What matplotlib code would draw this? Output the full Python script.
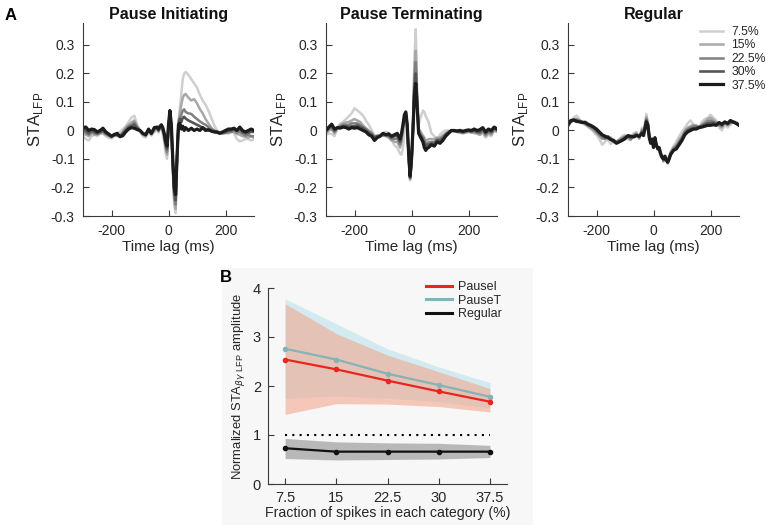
import numpy as np
import matplotlib
matplotlib.use("Agg")
import matplotlib.pyplot as plt

plt.rcParams['font.family'] = ['Liberation Sans', 'DejaVu Sans']

# ---------------- data ----------------
time_ms = [-300, -290, -280, -270, -260, -250, -240, -230, -220, -210,
           -200, -190, -180, -170, -160, -150, -140, -130, -120, -110,
           -100, -90, -80, -70, -60, -50, -40, -35, -30, -25,
           -20, -15, -10, -5, 0, 5, 10, 15, 20, 25,
           30, 35, 40, 45, 50, 55, 60, 70, 80, 90,
           100, 110, 120, 130, 140, 150, 160, 170, 180, 190,
           200, 210, 220, 230, 240, 250, 260, 270, 280, 290,
           300]

fraction_labels = ['7.5%', '15%', '22.5%', '30%', '37.5%']
panel_titles = ['Pause Initiating', 'Pause Terminating', 'Regular']

# Pause Initiating: 7.5, 15, 22.5, 30, 37.5 %
pi_075 = [-0.020, -0.030, -0.035, -0.020, -0.015, -0.020, -0.012, -0.010, -0.020, -0.025,
          -0.028, -0.020, -0.010, -0.005, 0.005, 0.015, 0.030, 0.045, 0.052, 0.020,
          -0.005, -0.020, -0.025, -0.005, -0.018, -0.005, 0.000, -0.008, 0.005, 0.010,
          -0.010, -0.040, -0.080, -0.100, 0.000, 0.060, 0.000, -0.140, -0.260, -0.290,
          -0.110, 0.030, 0.080, 0.130, 0.180, 0.200, 0.205, 0.195, 0.180, 0.165,
          0.150, 0.125, 0.105, 0.090, 0.070, 0.045, 0.020, 0.000, -0.005, -0.008,
          -0.010, -0.005, 0.000, -0.010, -0.030, -0.038, -0.035, -0.030, -0.030, -0.035,
          -0.030]
pi_150 = [-0.010, -0.015, -0.020, -0.010, -0.015, -0.015, -0.010, -0.008, -0.015, -0.020,
          -0.025, -0.015, -0.020, -0.018, -0.005, 0.010, 0.020, 0.028, 0.035, 0.015,
          0.000, -0.015, -0.020, -0.002, -0.015, 0.000, 0.005, -0.003, 0.008, 0.012,
          -0.005, -0.030, -0.065, -0.085, 0.005, 0.062, 0.005, -0.130, -0.245, -0.275,
          -0.100, 0.030, 0.060, 0.090, 0.115, 0.125, 0.128, 0.115, 0.105, 0.110,
          0.095, 0.075, 0.060, 0.040, 0.025, 0.010, 0.000, -0.005, -0.008, -0.010,
          -0.008, -0.010, -0.005, -0.005, -0.012, -0.015, -0.020, -0.022, -0.025, -0.020,
          -0.025]
pi_225 = [0.000, -0.008, -0.015, -0.005, -0.010, -0.012, -0.008, -0.003, -0.012, -0.018,
          -0.022, -0.015, -0.018, -0.020, -0.008, 0.005, 0.015, 0.020, 0.028, 0.012,
          0.000, -0.012, -0.018, 0.000, -0.012, 0.003, 0.008, 0.000, 0.010, 0.015,
          0.000, -0.020, -0.055, -0.075, 0.010, 0.065, 0.010, -0.120, -0.230, -0.260,
          -0.095, 0.025, 0.045, 0.055, 0.070, 0.074, 0.065, 0.060, 0.058, 0.048,
          0.040, 0.032, 0.025, 0.020, 0.012, 0.005, 0.000, -0.005, -0.008, -0.010,
          -0.008, -0.005, -0.005, 0.000, -0.008, -0.005, -0.012, -0.018, -0.015, -0.020,
          -0.020]
pi_300 = [0.005, 0.000, -0.010, 0.000, -0.005, -0.010, -0.005, 0.000, -0.010, -0.015,
          -0.020, -0.012, -0.015, -0.020, -0.010, 0.000, 0.010, 0.015, 0.020, 0.008,
          0.000, -0.012, -0.015, 0.000, -0.010, 0.005, 0.010, 0.000, 0.012, 0.018,
          0.005, -0.015, -0.045, -0.065, 0.015, 0.068, 0.015, -0.110, -0.215, -0.245,
          -0.090, 0.020, 0.040, 0.030, 0.045, 0.048, 0.042, 0.035, 0.030, 0.025,
          0.020, 0.015, 0.010, 0.005, 0.000, -0.002, -0.005, -0.008, -0.010, -0.008,
          -0.005, 0.000, 0.000, 0.005, 0.000, 0.005, -0.005, -0.010, -0.008, -0.005,
          -0.005]
pi_375 = [0.010, 0.012, 0.000, 0.005, 0.003, -0.005, 0.000, 0.008, -0.005, -0.012,
          -0.020, -0.015, -0.010, -0.022, -0.018, -0.005, 0.005, 0.010, 0.008, 0.003,
          0.000, -0.010, -0.015, 0.005, -0.010, 0.010, 0.012, 0.005, 0.015, 0.020,
          0.010, -0.010, -0.040, -0.055, 0.020, 0.070, 0.020, -0.100, -0.200, -0.225,
          -0.090, 0.020, 0.025, 0.005, 0.015, 0.000, 0.010, 0.000, 0.008, 0.000,
          0.005, 0.000, 0.010, 0.000, 0.003, -0.002, -0.005, -0.005, -0.010, -0.005,
          0.000, 0.005, 0.005, 0.008, 0.000, 0.012, 0.000, -0.005, 0.000, 0.005,
          0.000]

# Pause Terminating
pt_075 = [-0.015, -0.010, -0.012, -0.020, 0.010, 0.025, 0.030, 0.040, 0.050, 0.060,
          0.078, 0.070, 0.062, 0.052, 0.035, 0.020, 0.002, -0.018, -0.020, -0.015,
          -0.010, -0.005, -0.008, -0.030, -0.052, -0.060, -0.082, -0.085, -0.060, -0.010,
          0.030, 0.000, -0.100, -0.175, -0.125, 0.000, 0.250, 0.355, 0.130, 0.020,
          0.040, 0.055, 0.070, 0.065, 0.050, 0.040, 0.030, -0.010, -0.020, -0.030,
          -0.015, -0.005, 0.000, 0.000, -0.005, -0.005, 0.000, 0.002, 0.000, -0.005,
          0.000, -0.005, -0.010, -0.012, -0.015, -0.010, -0.025, -0.015, -0.020, 0.000,
          -0.005]
pt_150 = [-0.010, 0.000, 0.005, -0.010, 0.005, 0.018, 0.025, 0.028, 0.030, 0.035,
          0.040, 0.035, 0.030, 0.018, 0.008, 0.000, -0.008, -0.020, -0.018, -0.020,
          -0.018, -0.020, -0.025, -0.035, -0.040, -0.040, -0.060, -0.040, 0.005, 0.040,
          0.058, 0.010, -0.095, -0.170, -0.120, 0.000, 0.210, 0.280, 0.110, 0.005,
          0.000, -0.010, -0.018, -0.025, -0.035, -0.035, -0.030, -0.030, -0.030, -0.025,
          -0.025, -0.018, -0.010, -0.003, 0.000, -0.003, -0.005, -0.008, -0.010, -0.008,
          -0.005, -0.008, -0.008, -0.010, -0.015, -0.005, -0.020, -0.010, -0.015, 0.000,
          -0.005]
pt_225 = [-0.005, 0.005, 0.010, -0.005, 0.008, 0.015, 0.020, 0.020, 0.020, 0.025,
          0.025, 0.025, 0.020, 0.012, 0.005, -0.003, -0.010, -0.022, -0.020, -0.020,
          -0.015, -0.018, -0.020, -0.030, -0.030, -0.028, -0.050, -0.030, 0.010, 0.045,
          0.060, 0.015, -0.090, -0.168, -0.115, 0.000, 0.180, 0.240, 0.100, 0.000,
          -0.010, -0.018, -0.025, -0.035, -0.045, -0.045, -0.042, -0.040, -0.040, -0.030,
          -0.030, -0.022, -0.012, -0.005, 0.000, -0.002, -0.005, -0.005, -0.008, -0.005,
          -0.003, -0.005, -0.003, -0.008, -0.010, 0.000, -0.015, -0.005, -0.010, 0.005,
          0.000]
pt_300 = [0.000, 0.010, 0.015, 0.000, 0.010, 0.012, 0.015, 0.015, 0.012, 0.015,
          0.015, 0.018, 0.012, 0.008, 0.000, -0.008, -0.015, -0.025, -0.020, -0.018,
          -0.012, -0.015, -0.018, -0.025, -0.020, -0.018, -0.040, -0.020, 0.015, 0.050,
          0.062, 0.018, -0.085, -0.165, -0.110, 0.000, 0.150, 0.200, 0.090, -0.005,
          -0.015, -0.022, -0.032, -0.045, -0.055, -0.050, -0.050, -0.045, -0.048, -0.035,
          -0.035, -0.028, -0.015, -0.008, 0.000, 0.000, -0.003, -0.002, -0.005, -0.002,
          0.000, -0.003, 0.000, -0.005, -0.005, 0.005, -0.010, 0.000, -0.005, 0.008,
          0.003]
pt_375 = [0.000, 0.012, 0.022, 0.005, 0.010, 0.008, 0.012, 0.010, 0.005, 0.010,
          0.008, 0.010, 0.005, 0.000, -0.005, -0.015, -0.020, -0.035, -0.025, -0.020,
          -0.010, -0.015, -0.012, -0.020, -0.015, -0.010, -0.030, -0.010, 0.020, 0.055,
          0.065, 0.020, -0.080, -0.160, -0.100, 0.000, 0.120, 0.165, 0.080, -0.010,
          -0.020, -0.030, -0.040, -0.060, -0.070, -0.062, -0.060, -0.050, -0.055, -0.040,
          -0.045, -0.035, -0.020, -0.010, 0.000, 0.000, -0.002, 0.000, -0.003, 0.000,
          0.002, 0.000, 0.005, 0.000, 0.003, 0.010, -0.005, 0.005, 0.000, 0.012,
          0.005]

# Regular
rg_075 = [0.012, 0.030, 0.045, 0.052, 0.040, 0.025, 0.020, 0.012, 0.005, -0.005,
          -0.015, -0.030, -0.050, -0.040, -0.030, -0.048, -0.030, -0.045, -0.030, -0.020,
          -0.015, -0.030, -0.035, -0.010, -0.005, -0.030, 0.010, 0.000, 0.025, 0.058,
          0.030, -0.012, -0.035, -0.045, -0.050, -0.038, -0.058, -0.055, -0.072, -0.092,
          -0.085, -0.110, -0.102, -0.092, -0.118, -0.090, -0.075, -0.055, -0.040, -0.020,
          -0.005, 0.010, 0.025, 0.035, 0.020, 0.015, 0.010, 0.030, 0.040, 0.045,
          0.055, 0.045, 0.035, 0.010, 0.000, 0.020, 0.010, 0.020, 0.032, 0.030,
          0.020]
rg_150 = [0.015, 0.030, 0.040, 0.040, 0.035, 0.028, 0.022, 0.015, 0.008, 0.000,
          -0.010, -0.020, -0.030, -0.020, -0.030, -0.025, -0.042, -0.038, -0.032, -0.025,
          -0.020, -0.025, -0.032, -0.015, -0.010, -0.028, 0.005, -0.005, 0.020, 0.048,
          0.028, -0.015, -0.038, -0.040, -0.052, -0.035, -0.055, -0.058, -0.070, -0.088,
          -0.088, -0.108, -0.100, -0.095, -0.110, -0.092, -0.078, -0.060, -0.050, -0.032,
          -0.020, 0.000, 0.010, 0.015, 0.020, 0.018, 0.012, 0.022, 0.030, 0.040,
          0.045, 0.038, 0.030, 0.018, 0.010, 0.025, 0.018, 0.025, 0.030, 0.028,
          0.022]
rg_225 = [0.018, 0.030, 0.035, 0.038, 0.035, 0.030, 0.025, 0.018, 0.012, 0.005,
          -0.005, -0.015, -0.025, -0.030, -0.020, -0.028, -0.040, -0.040, -0.035, -0.028,
          -0.022, -0.022, -0.030, -0.018, -0.012, -0.025, 0.000, -0.008, 0.015, 0.040,
          0.025, -0.018, -0.040, -0.038, -0.055, -0.032, -0.052, -0.060, -0.068, -0.085,
          -0.090, -0.105, -0.098, -0.098, -0.108, -0.095, -0.080, -0.065, -0.055, -0.040,
          -0.025, -0.005, 0.005, 0.010, 0.015, 0.015, 0.012, 0.018, 0.025, 0.032,
          0.035, 0.030, 0.025, 0.020, 0.015, 0.028, 0.020, 0.028, 0.030, 0.025,
          0.022]
rg_300 = [0.020, 0.033, 0.035, 0.030, 0.032, 0.030, 0.025, 0.020, 0.015, 0.010,
          0.000, -0.010, -0.018, -0.025, -0.022, -0.030, -0.038, -0.042, -0.038, -0.032,
          -0.025, -0.020, -0.025, -0.020, -0.015, -0.022, -0.005, -0.012, 0.010, 0.035,
          0.022, -0.020, -0.042, -0.035, -0.058, -0.030, -0.050, -0.062, -0.065, -0.082,
          -0.092, -0.102, -0.095, -0.100, -0.110, -0.098, -0.082, -0.068, -0.060, -0.045,
          -0.030, -0.010, 0.000, 0.005, 0.008, 0.010, 0.012, 0.015, 0.020, 0.025,
          0.025, 0.028, 0.022, 0.025, 0.018, 0.030, 0.022, 0.030, 0.028, 0.025,
          0.020]
rg_375 = [0.020, 0.035, 0.037, 0.033, 0.030, 0.028, 0.029, 0.022, 0.018, 0.012,
          0.005, -0.005, -0.015, -0.020, -0.025, -0.032, -0.035, -0.045, -0.040, -0.035,
          -0.029, -0.018, -0.020, -0.023, -0.018, -0.020, -0.010, -0.018, 0.005, 0.030,
          0.020, -0.025, -0.045, -0.030, -0.060, -0.025, -0.050, -0.065, -0.060, -0.080,
          -0.095, -0.100, -0.090, -0.105, -0.112, -0.100, -0.085, -0.070, -0.065, -0.050,
          -0.035, -0.015, -0.005, 0.000, 0.005, 0.005, 0.010, 0.012, 0.015, 0.018,
          0.018, 0.020, 0.018, 0.028, 0.022, 0.030, 0.025, 0.035, 0.030, 0.025,
          0.018]

panel_series = [
    [pi_075, pi_150, pi_225, pi_300, pi_375],
    [pt_075, pt_150, pt_225, pt_300, pt_375],
    [rg_075, rg_150, rg_225, rg_300, rg_375],
]

# Panel B
fractions = [7.5, 15, 22.5, 30, 37.5]
pausei_mean = [2.54, 2.34, 2.11, 1.89, 1.68]
pausei_lo = [1.42, 1.64, 1.63, 1.58, 1.47]
pausei_hi = [3.68, 3.07, 2.63, 2.29, 1.95]
pauset_mean = [2.76, 2.54, 2.25, 2.02, 1.78]
pauset_lo = [1.75, 1.80, 1.75, 1.68, 1.55]
pauset_hi = [3.78, 3.27, 2.76, 2.39, 2.07]
regular_mean = [0.73, 0.66, 0.66, 0.66, 0.66]
regular_lo = [0.52, 0.49, 0.50, 0.51, 0.54]
regular_hi = [0.93, 0.86, 0.84, 0.83, 0.79]
reference_level = 1.0

for s in panel_series:
    for c in s:
        assert len(c) == len(time_ms)

# ---------------- plotting ----------------
W, H = 766, 525
fig = plt.figure(figsize=(W / 100, H / 100), dpi=100)

def ax_rect(l, t, r, b):
    return [l / W, 1 - b / H, (r - l) / W, (b - t) / H]

# light background behind panel B
bg = fig.add_axes([222 / W, 0, (533 - 222) / W, 1 - 268 / H], zorder=-10)
bg.set_facecolor('#f7f7f7')
bg.set_xticks([])
bg.set_yticks([])
for sp in bg.spines.values():
    sp.set_visible(False)

gray_colors = ['#cfcfcf', '#a8a8a8', '#808080', '#555555', '#1c1c1c']
gray_widths = [1.8, 1.8, 1.8, 1.9, 2.3]
txt_col = '#262626'
spine_col = '#3a3a3a'

lefts = [83, 326, 568]
for i, series in enumerate(panel_series):
    ax = fig.add_axes(ax_rect(lefts[i], 23, lefts[i] + 171, 216))
    for c, col, lw, lab in zip(series, gray_colors, gray_widths, fraction_labels):
        ax.plot(time_ms, c, color=col, lw=lw, label=lab, solid_joinstyle='round')
    ax.set_xlim(-300, 300)
    ax.set_ylim(-0.3, 0.377)
    ax.set_xticks([-200, 0, 200])
    ax.set_yticks([-0.3, -0.2, -0.1, 0, 0.1, 0.2, 0.3])
    ax.set_yticklabels(['-0.3', '-0.2', '-0.1', '0', '0.1', '0.2', '0.3'])
    ax.set_xticklabels(['-200', '0', '200'])
    for sp in ['top', 'right']:
        ax.spines[sp].set_visible(False)
    for sp in ['left', 'bottom']:
        ax.spines[sp].set_color(spine_col)
        ax.spines[sp].set_linewidth(0.8)
    ax.tick_params(direction='in', length=4, width=0.8, colors=spine_col,
                   labelcolor=txt_col, labelsize=10, pad=6)
    ax.set_xlabel('Time lag (ms)', fontsize=11, color=txt_col, labelpad=1)
    ax.set_ylabel(r'STA$_{\mathregular{LFP}}$', fontsize=12, color=txt_col, labelpad=4)
    ax.set_title(panel_titles[i], fontsize=11.5, fontweight='bold', color='#111111', pad=3)
    ax.patch.set_alpha(0)
    if i == 2:
        leg = ax.legend(loc='upper left', frameon=False, fontsize=8.8,
                        handlelength=1.85, handletextpad=0.7, labelspacing=0.12,
                        borderpad=0.0, borderaxespad=0.0,
                        bbox_to_anchor=(0.772, 0.985))
        for t in leg.get_texts():
            t.set_color(txt_col)

fig.text(5 / W, 1 - 15 / H, 'A', fontsize=12, fontweight='bold', va='center', ha='left')

# Panel B
axb = fig.add_axes(ax_rect(268, 288, 507, 484))
axb.patch.set_alpha(0)
axb.fill_between(fractions, pauset_lo, pauset_hi, color='#d3eaf1', lw=0, zorder=1)
axb.fill_between(fractions, pausei_lo, pausei_hi, color='#f4a186', alpha=0.55, lw=0, zorder=2)
axb.fill_between(fractions, regular_lo, regular_hi, color='#a9a9a9', alpha=0.8, lw=0, zorder=2)
axb.plot([fractions[0], fractions[-1]], [reference_level, reference_level],
         ls=(0, (1, 2.5)), color='black', lw=1.5, zorder=3)
l1, = axb.plot(fractions, pausei_mean, color='#e8261f', lw=1.6, marker='o', ms=3,
               label='PauseI', zorder=5)
l2, = axb.plot(fractions, pauset_mean, color='#86b3b5', lw=1.6, marker='o', ms=3,
               label='PauseT', zorder=4)
l3, = axb.plot(fractions, regular_mean, color='#111111', lw=1.6, marker='o', ms=3,
               label='Regular', zorder=5)
axb.set_xlim(5, 40)
axb.set_ylim(0, 4)
axb.set_xticks(fractions)
axb.set_xticklabels(['7.5', '15', '22.5', '30', '37.5'])
axb.set_yticks([0, 1, 2, 3, 4])
for sp in ['top', 'right']:
    axb.spines[sp].set_visible(False)
for sp in ['left', 'bottom']:
    axb.spines[sp].set_color(spine_col)
    axb.spines[sp].set_linewidth(0.8)
axb.tick_params(direction='in', length=4, width=0.8, colors=spine_col,
                labelcolor=txt_col, labelsize=10.5, pad=5)
axb.set_xlabel('Fraction of spikes in each category (%)', fontsize=10.2,
               color=txt_col, labelpad=0.5)
axb.set_ylabel(r'Normalized STA$_{\beta\gamma\ \mathregular{LFP}}$ amplitude', fontsize=9.4,
               color=txt_col, labelpad=4)
legb = axb.legend(handles=[l1, l2, l3], loc='upper right', frameon=False, fontsize=9,
                  handlelength=2.1, handletextpad=0.5, labelspacing=0.12,
                  borderpad=0.0, borderaxespad=0.0, bbox_to_anchor=(0.98, 1.035))
for h in legb.legend_handles:
    h.set_marker('')
    h.set_linewidth(2.2)
for t in legb.get_texts():
    t.set_color(txt_col)

fig.text(220 / W, 1 - 277 / H, 'B', fontsize=12, fontweight='bold', va='center', ha='left')

fig.savefig('out.png', dpi=100)
